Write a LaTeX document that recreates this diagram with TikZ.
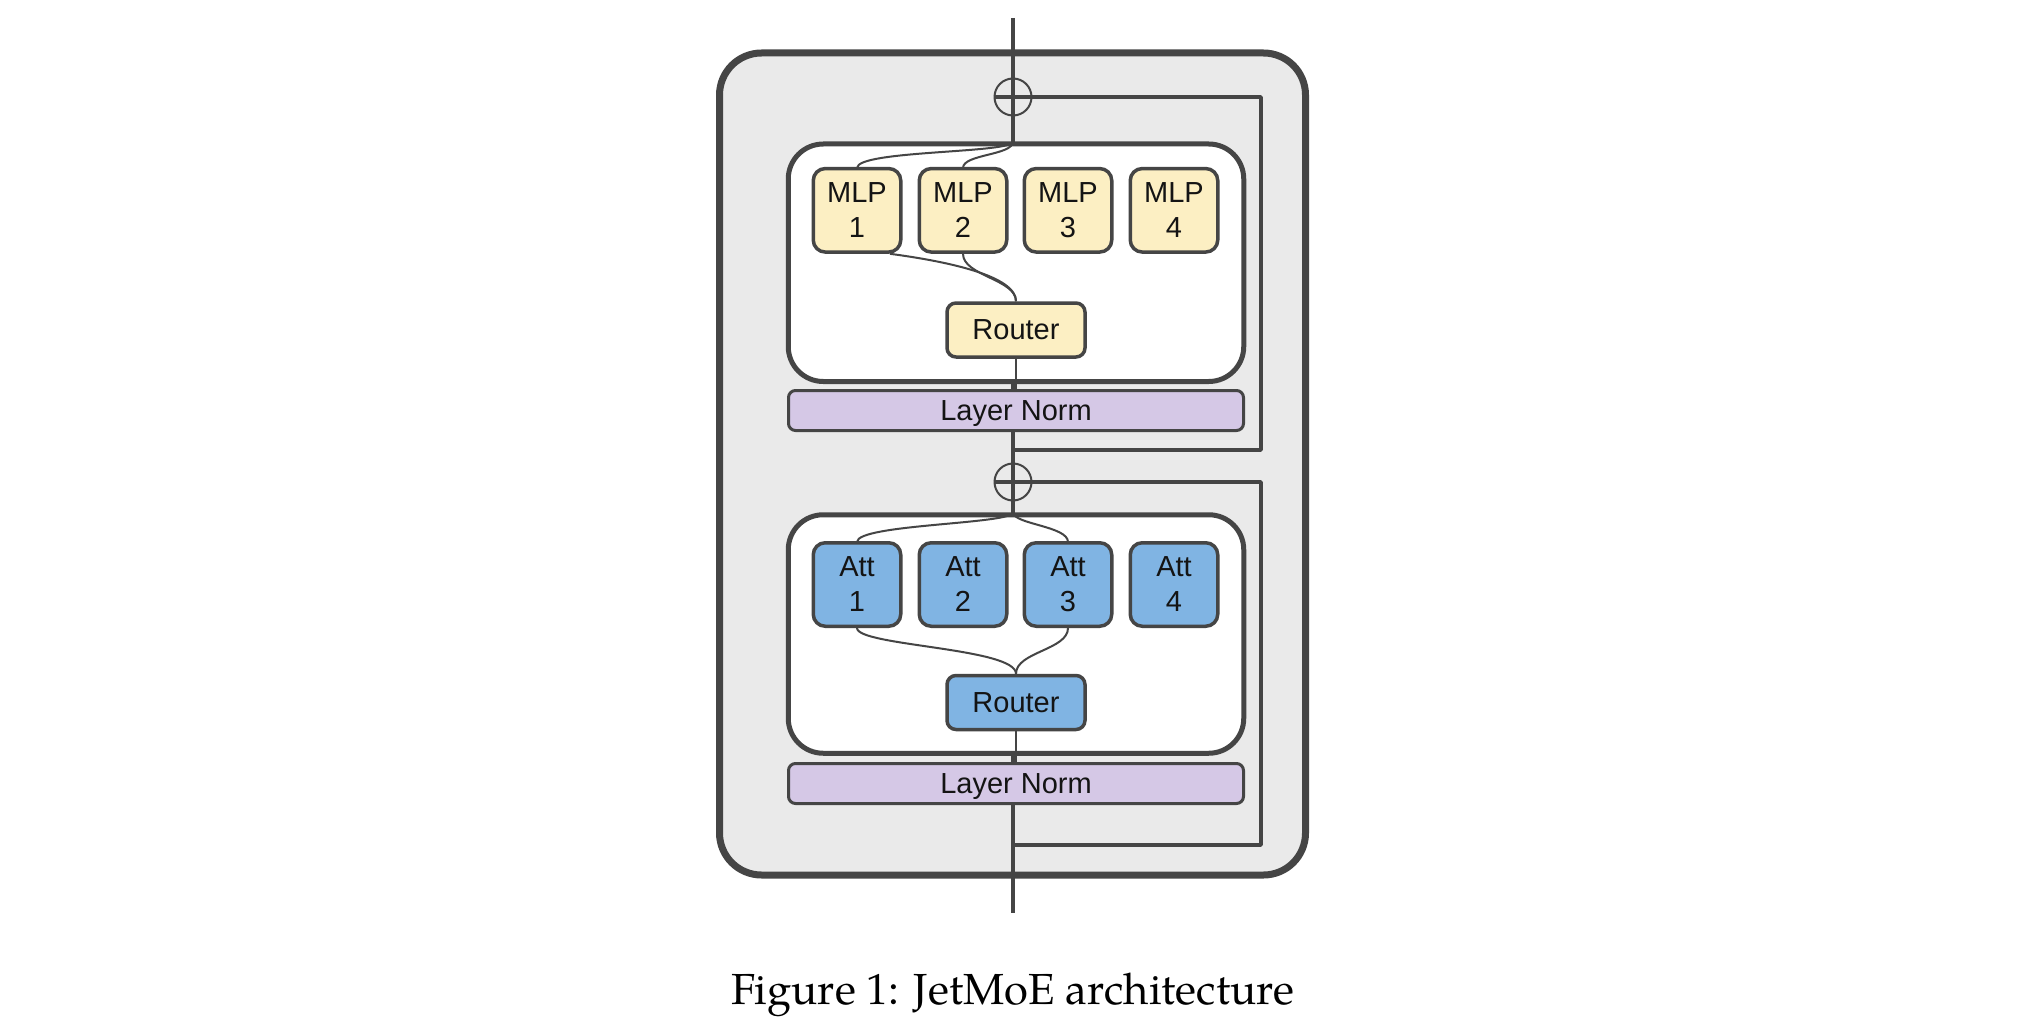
\documentclass[tikz,border=0pt]{standalone}
\usepackage{fontspec}
\setmainfont{Liberation Sans}
\newfontfamily\capfont{TeX Gyre Pagella}
\usetikzlibrary{calc}
\definecolor{lncol}{HTML}{454545}
\definecolor{outerfill}{HTML}{EAEAEA}
\definecolor{mlpfill}{HTML}{FCEFC3}
\definecolor{attfill}{HTML}{80B4E3}
\definecolor{normfill}{HTML}{D5C8E6}
\definecolor{txt}{HTML}{141414}
\begin{document}
\begin{tikzpicture}[x=1pt,y=-1pt,line join=round,
  expert/.style={draw=lncol,line width=3.5pt,rounded corners=12pt,minimum width=87.5pt,minimum height=83.5pt,inner sep=0pt,align=center,text=txt,font=\fontsize{29}{35}\selectfont},
  routerbox/.style={draw=lncol,line width=3.5pt,rounded corners=9pt,minimum width=138pt,minimum height=54pt,inner sep=0pt,text=txt,font=\fontsize{29}{35}\selectfont},
  normbox/.style={draw=lncol,line width=3pt,rounded corners=7pt,fill=normfill,minimum width=455pt,minimum height=40pt,inner sep=0pt,text depth=0pt,text=txt,font=\fontsize{29}{35}\selectfont},
  innerbox/.style={draw=lncol,line width=5pt,rounded corners=35pt,fill=white,minimum width=455.5pt,inner sep=0pt},
  mainline/.style={draw=lncol,line width=3.5pt},
  thinline/.style={draw=lncol,line width=2pt},
  addcirc/.style={circle,draw=lncol,line width=2pt,minimum size=37pt,inner sep=0pt}]
\useasboundingbox (0,0) rectangle (2034,1024);
% outer block
\node[draw=lncol,line width=7pt,rounded corners=42pt,fill=outerfill,minimum width=586pt,minimum height=822pt,inner sep=0pt] (outer) at (1012.5,464) {};
% main stream
\coordinate (top) at (1013,18);
\coordinate (bot) at (1013,913);
\draw[mainline] (top) -- (bot);
% adders
\node[addcirc] (c1) at (1013,97) {};
\node[addcirc] (c2) at (1013,482) {};
\coordinate (j1) at (1013,450);
\coordinate (j2) at (1013,845);
\coordinate (k1) at (1261,97);
\coordinate (k2) at (1261,482);
\draw[mainline] (c1.west) -- (k1) |- (j1);
\draw[mainline] (c2.west) -- (k2) |- (j2);
% inner boxes
\node[innerbox,minimum height=237.5pt] (box1) at (1016,262.75) {};
\node[innerbox,minimum height=238.5pt] (box2) at (1016,634) {};
% routers
\node[routerbox,fill=mlpfill] (r1) at (1016,330) {Router};
\node[routerbox,fill=attfill] (r2) at (1016,702.5) {Router};
% layer norms
\node[normbox] (ln1) at (1016,410.5) {Layer Norm};
\node[normbox] (ln2) at (1016,783.5) {Layer Norm};
\draw[thinline] (r1.south) -- (ln1.north);
\draw[thinline] (r2.south) -- (ln2.north);
% routing curves
\coordinate (t1) at (box1.north -| top);
\coordinate (t2) at (box2.north -| top);
\draw[thinline] (t1) .. controls +(0,12) and +(0,-18) .. (857,168);
\draw[thinline] (t1) .. controls +(0,14) and +(0,-14) .. (963,168);
\draw[thinline] (t2) .. controls +(0,12) and +(0,-18) .. (857,542);
\draw[thinline] (t2) .. controls +(0,12) and +(0,-16) .. (1068,542);
% expert boxes
\node[expert,fill=mlpfill] (m1) at (857,210.3) {MLP\\1};
\node[expert,fill=mlpfill] (m2) at (963,210.3) {MLP\\2};
\node[expert,fill=mlpfill] (m3) at (1068,210.3) {MLP\\3};
\node[expert,fill=mlpfill] (m4) at (1174,210.3) {MLP\\4};
\node[expert,fill=attfill] (a1) at (857,584.5) {Att\\1};
\node[expert,fill=attfill] (a2) at (963,584.5) {Att\\2};
\node[expert,fill=attfill] (a3) at (1068,584.5) {Att\\3};
\node[expert,fill=attfill] (a4) at (1174,584.5) {Att\\4};
\draw[thinline] ($(m1.south)+(33,0)$) .. controls +(60,8) and +(0,-25) .. (r1.north);
\draw[thinline] (m2.south) .. controls +(0,22) and +(0,-22) .. (r1.north);
\draw[thinline] (a1.south) .. controls +(0,18) and +(0,-26) .. (r2.north);
\draw[thinline] (a3.south) .. controls +(0,22) and +(0,-22) .. (r2.north);
% caption
\node[font=\capfont\fontsize{43.5}{50}\selectfont,anchor=base,text=black,inner sep=0pt] (cap) at (1013,1004) {Figure 1: JetMoE architecture};
\end{tikzpicture}
\end{document}
